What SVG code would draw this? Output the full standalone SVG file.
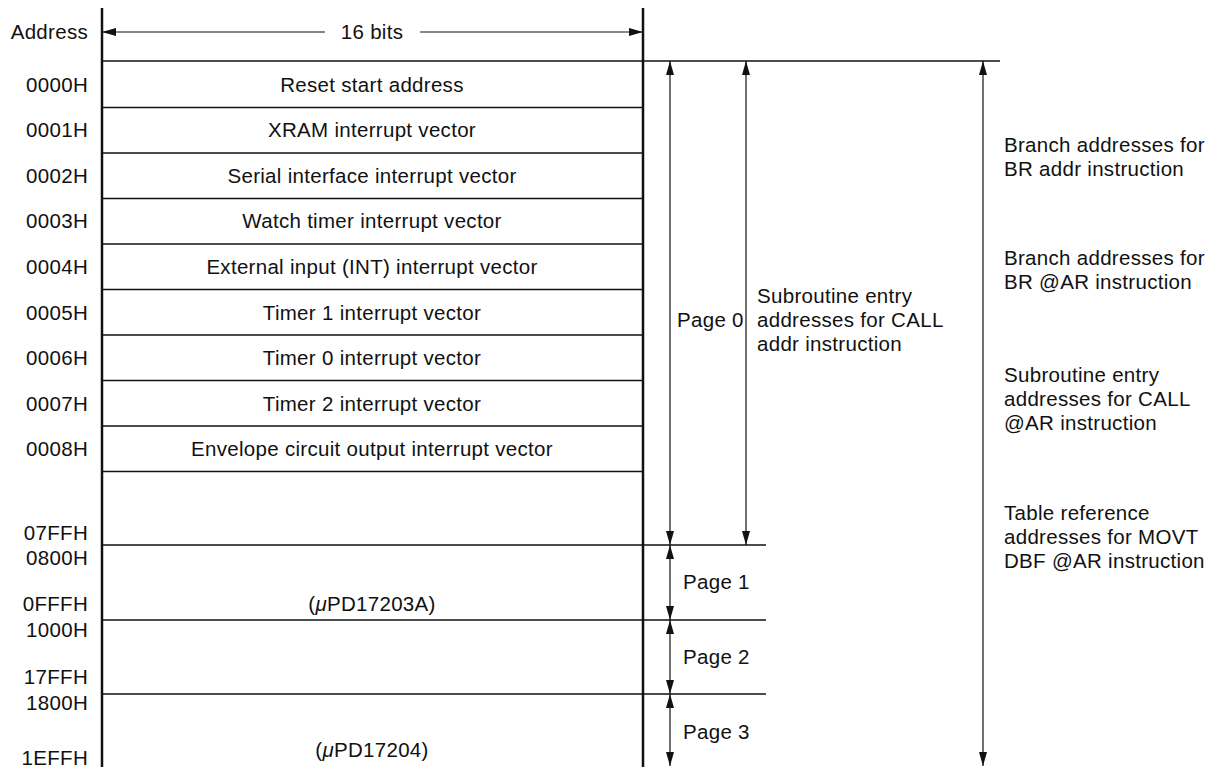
<svg xmlns="http://www.w3.org/2000/svg" width="1217" height="767" viewBox="0 0 1217 767">
<style>
text{font-family:"Liberation Sans",Arial,Helvetica,sans-serif;font-size:20.5px;fill:#111;letter-spacing:0.3px}
.c{text-anchor:middle}
.r{text-anchor:end}
.thick{stroke:#111;stroke-width:2.5;fill:none}
.row{stroke:#111;stroke-width:1.6;fill:none}
.arr{stroke:#111;stroke-width:1.2;fill:none;marker-end:url(#ah);marker-start:url(#ah)}
.arr1{stroke:#111;stroke-width:1.2;fill:none;marker-end:url(#ah)}
</style>
<defs>
<marker id="ah" viewBox="0 0 14 8" refX="14" refY="4" markerWidth="14" markerHeight="8" markerUnits="userSpaceOnUse" orient="auto-start-reverse">
<path d="M0,0 L14,4 L0,8 z" fill="#111"/>
</marker>
</defs>
<rect width="1217" height="767" fill="#fff"/>

<g id="header">
<text x="88" y="39" class="r">Address</text>
<text x="372" y="39" class="c">16 bits</text>
</g>

<g id="frame">
<line x1="102" y1="8" x2="102" y2="767" class="thick"/>
<line x1="643" y1="8" x2="643" y2="767" class="thick"/>
<line x1="102" y1="61" x2="1000" y2="61" class="row"/>
<line x1="102" y1="545" x2="766" y2="545" class="row"/>
<line x1="102" y1="620" x2="766" y2="620" class="row"/>
<line x1="102" y1="694" x2="766" y2="694" class="row"/>
</g>

<g id="row0"><text x="88" y="92" class="r">0000H</text><text x="372" y="92" class="c">Reset start address</text><line x1="102" y1="107.5" x2="643" y2="107.5" class="row"/></g>
<g id="row1"><text x="88" y="137" class="r">0001H</text><text x="372" y="137" class="c">XRAM interrupt vector</text><line x1="102" y1="153" x2="643" y2="153" class="row"/></g>
<g id="row2"><text x="88" y="183" class="r">0002H</text><text x="372" y="183" class="c">Serial interface interrupt vector</text><line x1="102" y1="198.5" x2="643" y2="198.5" class="row"/></g>
<g id="row3"><text x="88" y="228" class="r">0003H</text><text x="372" y="228" class="c">Watch timer interrupt vector</text><line x1="102" y1="244" x2="643" y2="244" class="row"/></g>
<g id="row4"><text x="88" y="274" class="r">0004H</text><text x="372" y="274" class="c">External input (INT) interrupt vector</text><line x1="102" y1="289.5" x2="643" y2="289.5" class="row"/></g>
<g id="row5"><text x="88" y="320" class="r">0005H</text><text x="372" y="320" class="c">Timer 1 interrupt vector</text><line x1="102" y1="335" x2="643" y2="335" class="row"/></g>
<g id="row6"><text x="88" y="365" class="r">0006H</text><text x="372" y="365" class="c">Timer 0 interrupt vector</text><line x1="102" y1="380.5" x2="643" y2="380.5" class="row"/></g>
<g id="row7"><text x="88" y="411" class="r">0007H</text><text x="372" y="411" class="c">Timer 2 interrupt vector</text><line x1="102" y1="426" x2="643" y2="426" class="row"/></g>
<g id="row8"><text x="88" y="456" class="r">0008H</text><text x="372" y="456" class="c">Envelope circuit output interrupt vector</text><line x1="102" y1="471.5" x2="643" y2="471.5" class="row"/></g>

<g id="addr-labels">
<text x="88" y="540" class="r">07FFH</text>
<text x="88" y="565" class="r">0800H</text>
<text x="88" y="611" class="r">0FFFH</text>
<text x="88" y="637" class="r">1000H</text>
<text x="88" y="684" class="r">17FFH</text>
<text x="88" y="710" class="r">1800H</text>
<text x="88" y="765" class="r">1EFFH</text>
</g>

<g id="chip-labels">
<text x="372" y="611" class="c">(<tspan font-style="italic">μ</tspan>PD17203A)</text>
<text x="372" y="757" class="c">(<tspan font-style="italic">μ</tspan>PD17204)</text>
</g>

<g id="page-labels">
<text x="677" y="327">Page 0</text>
<text x="683" y="589">Page 1</text>
<text x="683" y="664">Page 2</text>
<text x="683" y="739">Page 3</text>
</g>

<g id="desc-call-addr">
<text x="757" y="303">Subroutine entry</text>
<text x="757" y="327">addresses for CALL</text>
<text x="757" y="351">addr instruction</text>
</g>

<g id="desc-right">
<text x="1004" y="152">Branch addresses for</text>
<text x="1004" y="176">BR addr instruction</text>
<text x="1004" y="265">Branch addresses for</text>
<text x="1004" y="289">BR @AR instruction</text>
<text x="1004" y="382">Subroutine entry</text>
<text x="1004" y="406">addresses for CALL</text>
<text x="1004" y="430">@AR instruction</text>
<text x="1004" y="520">Table reference</text>
<text x="1004" y="544">addresses for MOVT</text>
<text x="1004" y="568">DBF @AR instruction</text>
</g>

<g id="connectors">
<line x1="325" y1="32" x2="102" y2="32" class="arr1"/>
<line x1="420" y1="32" x2="643" y2="32" class="arr1"/>
<line x1="670" y1="61" x2="670" y2="545" class="arr"/>
<line x1="746" y1="61" x2="746" y2="545" class="arr"/>
<line x1="983" y1="61" x2="983" y2="766" class="arr"/>
<line x1="670" y1="545" x2="670" y2="620" class="arr"/>
<line x1="670" y1="620" x2="670" y2="694" class="arr"/>
<line x1="670" y1="694" x2="670" y2="766" class="arr"/>
</g>
</svg>
